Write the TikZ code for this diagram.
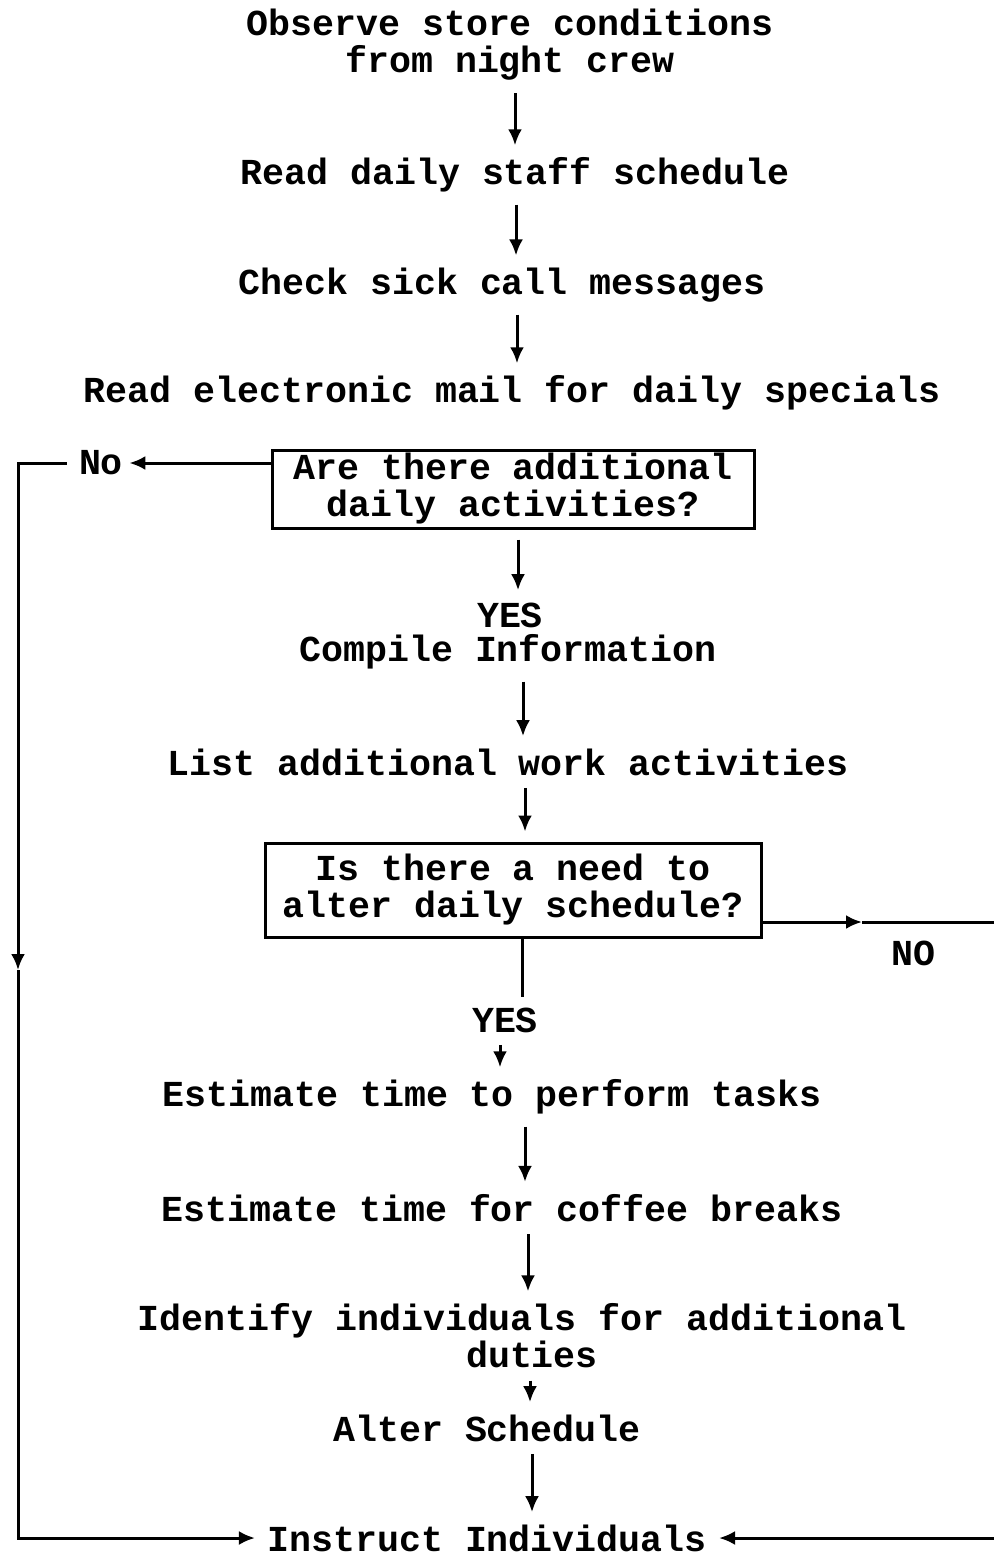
\documentclass[tikz,border=0pt]{standalone}
\usepackage{fontspec}
\setmonofont{Liberation Mono}
\usetikzlibrary{arrows.meta, positioning}

\begin{document}
\begin{tikzpicture}[
    x=0.5pt, y=-0.5pt,
    activity/.style={font=\ttfamily\bfseries\fontsize{18.3}{18.5}\selectfont, align=center, inner sep=1pt},
    question/.style={activity, draw, line width=1.5pt, minimum width=241pt},
    answer/.style={activity, inner sep=1pt},
    flow/.style={-{Latex[length=8pt, width=7pt]}, line width=1.5pt, shorten <=5pt, shorten >=5pt},
    link/.style={line width=1.5pt}
]
\useasboundingbox (0,0) rectangle (994,1558);

% Main sequence
\node[activity] (observe) at (510,45) {Observe store conditions\\from night crew};
\node[activity] (readsched) at (515,175) {Read daily staff schedule};
\node[activity] (sickcall) at (502,285) {Check sick call messages};
\node[activity] (email) at (512,393) {Read electronic mail for daily specials};

% First decision
\node[question, minimum height=39pt] (addq) at (513,489) {Are there additional\\daily activities?};
\node[answer] (yes1) at (510,615) {YES};
\node[activity] (compile) at (508,652) {Compile Information};
\node[activity] (listwork) at (508,762) {List additional work activities};

% Second decision
\node[question, minimum width=248pt, minimum height=47pt] (alterq) at (513,890) {Is there a need to\\alter daily schedule?};
\node[answer] (yes2) at (505,1020) {YES};
\node[activity] (esttask) at (492,1097) {Estimate time to perform tasks};
\node[activity] (estcoffee) at (502,1208) {Estimate time for coffee breaks};
\node[activity] (identify) at (522,1336) {Identify individuals for additional\\\hspace*{10pt}duties};
\node[activity] (alter) at (487,1428) {Alter Schedule};
\node[activity] (instruct) at (487,1538) {Instruct Individuals};

% NO answers
\node[answer] (no1) at (101,463) {No};
\node[answer] (no2) at (913,953) {NO};

% Vertical arrows
\foreach \a/\b/\x in {observe/readsched/515, readsched/sickcall/516, sickcall/email/517,
    addq/yes1/518, compile/listwork/523, listwork/alterq/525, yes2/esttask/500,
    esttask/estcoffee/525, estcoffee/identify/528, identify/alter/530, alter/instruct/532}
  \draw[flow] (\a.south -| \x,0) -- (\b.north -| \x,0);
\draw[link] (alterq.south -| 522,0) -- ([yshift=4pt]yes2.north -| 522,0);

% Left loop (No)
\coordinate (leftturn) at (18,463);
\coordinate (leftmid) at (18,970);
\draw[flow, shorten <=0pt, shorten >=2pt] ([yshift=13pt]addq.west) -- (no1.east);
\draw[flow, shorten >=0pt] (no1.west) -- (leftturn) -- (leftmid);
\draw[flow, shorten <=0pt] (leftmid) |- (instruct.west);

% Right loop (NO)
\coordinate (rightmid) at (862,922);
\coordinate (rightturn) at (1010,922);
\draw[flow, shorten <=0pt, shorten >=0pt] ([yshift=-16pt]alterq.east) -- (rightmid);
\draw[flow, shorten <=0pt] (rightmid) -- (rightturn) |- (instruct.east);

\end{tikzpicture}
\end{document}
